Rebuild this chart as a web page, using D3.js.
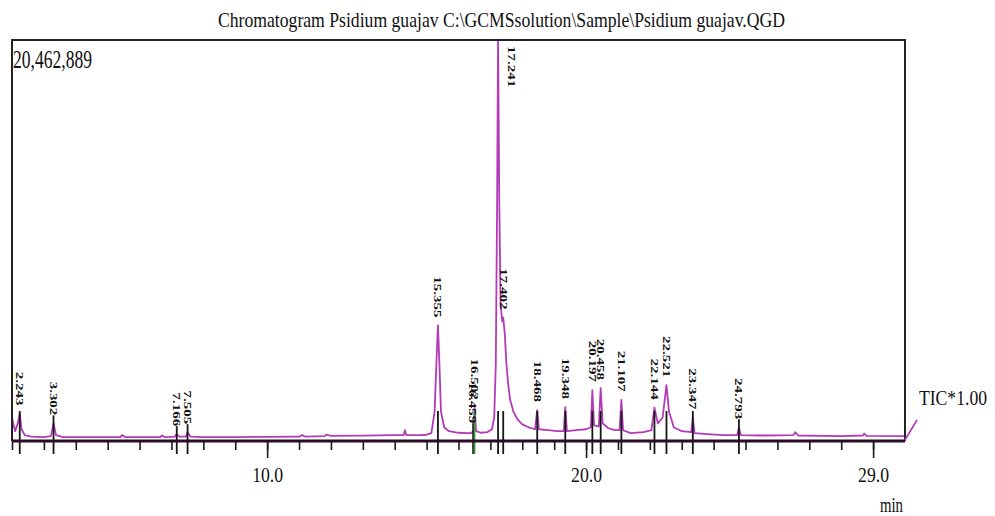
<!DOCTYPE html>
<html>
<head>
<meta charset="utf-8">
<script src="https://cdn.jsdelivr.net/npm/d3@7.9.0/dist/d3.min.js"></script>
<style>
  html, body { margin: 0; padding: 0; background: #fff; }
  svg text { font-family: "Liberation Serif", "DejaVu Serif", serif; fill: #111; }
</style>
</head>
<body>
<svg id="chart" width="995" height="516"></svg>
<script>
// Chromatogram data (retention time in min, intensity in millions of counts)
const maxIntensity = 20.462889;

const traceTime = [
  2.00, 2.05, 2.10, 2.18, 2.243, 2.30, 2.40, 2.60, 3.00, 3.22, 3.302, 3.38, 3.60, 4.50,
  5.40, 5.45, 5.55, 6.65, 6.70, 6.80, 7.10, 7.166, 7.25, 7.45, 7.505, 7.60, 8.00, 9.00,
  10.00, 11.00, 11.10, 11.20, 11.80, 11.85, 12.00, 13.00, 14.00, 14.28, 14.32, 14.36, 14.80,
  15.00, 15.15, 15.25, 15.32, 15.355, 15.40, 15.45, 15.55, 15.70, 16.00, 16.30, 16.40,
  16.459, 16.48, 16.502, 16.55, 16.70, 16.90, 17.05, 17.12, 17.17, 17.21, 17.241, 17.28,
  17.32, 17.37, 17.402, 17.45, 17.50, 17.55, 17.62, 17.72, 17.85, 18.00, 18.20, 18.40,
  18.468, 18.52, 18.80, 19.10, 19.30, 19.348, 19.40, 19.70, 20.00, 20.15, 20.197, 20.25,
  20.40, 20.458, 20.52, 20.70, 20.90, 21.05, 21.107, 21.16, 21.40, 21.80, 22.05, 22.144,
  22.25, 22.40, 22.521, 22.60, 22.75, 23.00, 23.30, 23.347, 23.40, 23.80, 24.30, 24.74,
  24.793, 24.85, 25.50, 26.50, 26.56, 26.65, 28.00, 28.68, 28.72, 28.80, 30.00
];
const traceIntensity = [
  1.20, 0.80, 0.50, 0.90, 1.40, 0.60, 0.30, 0.22, 0.20, 0.25, 0.90, 0.30, 0.20, 0.20,
  0.20, 0.30, 0.20, 0.20, 0.28, 0.20, 0.22, 0.35, 0.22, 0.22, 0.45, 0.22, 0.20, 0.20,
  0.21, 0.22, 0.30, 0.22, 0.25, 0.32, 0.26, 0.27, 0.30, 0.30, 0.55, 0.30, 0.30,
  0.32, 0.40, 1.50, 4.50, 5.90, 4.00, 1.50, 0.70, 0.50, 0.42, 0.40, 0.40,
  0.50, 0.42, 1.70, 0.50, 0.42, 0.45, 0.60, 1.20, 4.00, 12.0, 20.46, 12.0,
  7.00, 6.10, 6.30, 5.50, 4.00, 3.00, 2.10, 1.50, 1.10, 0.85, 0.70, 0.60,
  1.58, 0.60, 0.55, 0.50, 0.50, 1.73, 0.50, 0.55, 0.60, 0.70, 2.60, 0.80,
  0.75, 2.70, 0.90, 0.65, 0.55, 0.55, 2.10, 0.55, 0.40, 0.45, 0.55, 1.70,
  0.90, 1.20, 2.85, 1.50, 0.70, 0.50, 0.45, 1.20, 0.40, 0.35, 0.30, 0.30,
  0.70, 0.30, 0.28, 0.30, 0.45, 0.28, 0.25, 0.28, 0.38, 0.26, 0.25
];

const peakTimes = [2.243, 3.302, 7.166, 7.505, 15.355, 16.459, 16.502, 17.241, 17.402,
  18.468, 19.348, 20.197, 20.458, 21.107, 22.144, 22.521, 23.347, 24.793];
const peakLabels = ["2.243", "3.302", "7.166", "7.505", "15.355", "16.459", "16.502", "17.241", "17.402",
  "18.468", "19.348", "20.197", "20.458", "21.107", "22.144", "22.521", "23.347", "24.793"];

const minorTicks = [2, 3, 4, 5, 6, 7, 8, 9, 10, 11, 12, 13, 14, 15, 16, 17, 18, 19, 20,
  21, 22, 23, 24, 25, 26, 27, 28, 29];
const majorTicks = [10, 20, 29];
const majorTickLabels = ["10.0", "20.0", "29.0"];

const titleText = "Chromatogram Psidium guajav C:\\GCMSsolution\\Sample\\Psidium guajav.QGD";
const maxLabel = "20,462,889";
const ticLabel = "TIC*1.00";
const unitLabel = "min";
const greenPeak = "16.502";

// Layout
const plot = { left: 12, right: 905, top: 40, bottom: 441 };
const svg = d3.select('#chart');

const x = d3.scaleLinear().domain([2, 30]).range([plot.left, plot.right]);
const y = d3.scaleLinear().domain([0, maxIntensity]).range([plot.bottom, plot.top]);

const trace = traceTime.map((t, i) => [t, traceIntensity[i]]);
const heightAt = new Map(trace.map(d => [d[0], d[1]]));

// Title and max intensity
svg.append('text')
  .attr('x', 218).attr('y', 27)
  .attr('font-size', 21)
  .attr('textLength', 567).attr('lengthAdjust', 'spacingAndGlyphs')
  .text(titleText);

svg.append('text')
  .attr('x', 13).attr('y', 68)
  .attr('font-size', 25)
  .attr('textLength', 79).attr('lengthAdjust', 'spacingAndGlyphs')
  .text(maxLabel);

// Clip for trace
svg.append('clipPath').attr('id', 'plot-clip')
  .append('rect')
  .attr('x', plot.left).attr('y', plot.top)
  .attr('width', plot.right - plot.left).attr('height', plot.bottom - plot.top);

// Trace
const line = d3.line()
  .x(d => x(d[0]))
  .y(d => y(d[1]));

svg.append('path')
  .datum(trace)
  .attr('clip-path', 'url(#plot-clip)')
  .attr('d', line)
  .attr('fill', 'none')
  .attr('stroke', '#b43ab8')
  .attr('stroke-width', 1.8)
  .attr('stroke-linejoin', 'round');

// Peak markers
const peaks = peakTimes.map((t, i) => ({ t, label: peakLabels[i], h: heightAt.get(t) }));
const isClipped = d => y(d.h) < plot.top + 5;

svg.append('g')
  .selectAll('line')
  .data(peaks)
  .join('line')
  .attr('x1', d => x(d.t)).attr('x2', d => x(d.t))
  .attr('y1', d => Math.max(y(d.h) - 8, plot.bottom - 30))
  .attr('y2', plot.bottom + 13)
  .attr('stroke', d => d.label === greenPeak ? '#3c9a3c' : '#161616')
  .attr('stroke-width', 1.8);

// Peak labels (rotated, reading downwards)
svg.append('g')
  .selectAll('text')
  .data(peaks)
  .join('text')
  .attr('font-size', 15)
  .attr('font-weight', 'bold')
  .attr('dy', '0.35em')
  .attr('text-anchor', d => isClipped(d) ? 'start' : 'end')
  .attr('transform', d => {
    const px = isClipped(d) ? x(d.t) + 14 : x(d.t);
    const py = isClipped(d) ? plot.top + 6 : y(d.h) - 8;
    return `translate(${px},${py}) scale(0.7,1) rotate(90)`;
  })
  .text(d => d.label);

// Frame
svg.append('path')
  .attr('d', `M${plot.left},${plot.bottom}V${plot.top}H${plot.right}V${plot.bottom}`)
  .attr('fill', 'none')
  .attr('stroke', '#222')
  .attr('stroke-width', 2);

// X axis: minor ticks
const minorAxis = d3.axisBottom(x)
  .tickValues(minorTicks)
  .tickSize(9)
  .tickFormat('');
svg.append('g')
  .attr('transform', `translate(0,${plot.bottom})`)
  .call(minorAxis)
  .call(g => g.select('.domain').remove())
  .call(g => g.selectAll('line').attr('stroke', '#1a1a1a').attr('stroke-width', 1.6));

// X axis: labelled ticks
const majorAxis = d3.axisBottom(x)
  .tickValues(majorTicks)
  .tickSize(17)
  .tickPadding(9)
  .tickFormat((d, i) => majorTickLabels[i]);
svg.append('g')
  .attr('transform', `translate(0,${plot.bottom})`)
  .call(majorAxis)
  .call(g => g.select('.domain').remove())
  .call(g => g.selectAll('line').attr('stroke', '#1a1a1a').attr('stroke-width', 1.6))
  .call(g => g.selectAll('text')
    .attr('font-family', '"Liberation Serif", serif')
    .attr('font-size', 21)
    .attr('fill', '#111')
    .attr('textLength', 31)
    .attr('lengthAdjust', 'spacingAndGlyphs'));

// Axis baseline
svg.append('line')
  .attr('x1', plot.left).attr('x2', plot.right)
  .attr('y1', plot.bottom).attr('y2', plot.bottom)
  .attr('stroke', '#2a0c26')
  .attr('stroke-width', 3);

// TIC leader and label
svg.append('line')
  .attr('x1', plot.right).attr('y1', plot.bottom - 1)
  .attr('x2', 917).attr('y2', 420)
  .attr('stroke', '#b43ab8')
  .attr('stroke-width', 1.6);

svg.append('text')
  .attr('x', 919).attr('y', 405)
  .attr('font-size', 20)
  .attr('textLength', 68).attr('lengthAdjust', 'spacingAndGlyphs')
  .text(ticLabel);

svg.append('text')
  .attr('x', 880).attr('y', 512)
  .attr('font-size', 20)
  .attr('textLength', 23).attr('lengthAdjust', 'spacingAndGlyphs')
  .text(unitLabel);
</script>
</body>
</html>
